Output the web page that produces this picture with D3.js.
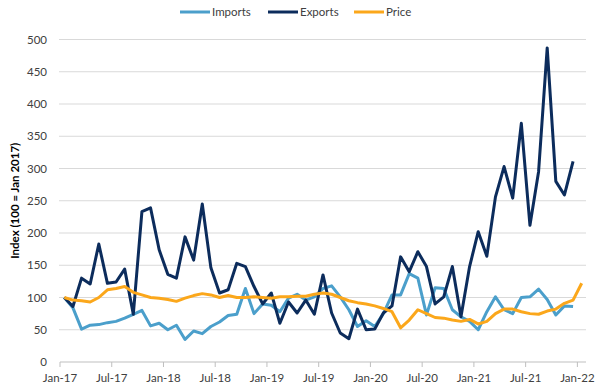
<!DOCTYPE html>
<html lang="en">
<head>
<meta charset="UTF-8">
<title>Index chart</title>
<script src="https://d3js.org/d3.v7.min.js"></script>
<style>
  body { margin: 0; background: #fff; }
  text { font-family: Lato, "Open Sans", sans-serif; fill: #404040; }
</style>
</head>
<body>
<div id="chart"></div>
<script>
// monthly values, Jan-17 .. Dec-21 (price also has Jan-22)
var months = d3.timeMonths(new Date(2017, 0, 1), new Date(2022, 1, 1));

var imports = [100, 84, 51, 57, 58, 61, 63, 68, 74, 80, 56, 60,
               50, 57, 35, 48, 44, 55, 62, 72, 74, 114, 75, 90,
               88, 78, 99, 105, 96, 101, 114, 118, 101, 81, 55, 64,
               55, 75, 104, 104, 137, 130, 73, 115, 114, 81, 70, 63,
               50, 78, 101, 81, 75, 100, 101, 113, 97, 73, 87, 86];

var exports = [100, 86, 130, 121, 183, 122, 124, 144, 74, 233, 239, 174,
               136, 130, 194, 158, 245, 146, 107, 112, 153, 148, 117, 90,
               107, 60, 93, 76, 96, 74, 135, 76, 45, 36, 82, 50,
               51, 76, 87, 163, 140, 171, 148, 90, 101, 148, 70, 148,
               202, 164, 256, 303, 254, 370, 212, 295, 487, 280, 259, 311];

var price = [100, 96, 95, 93, 100, 112, 114, 117, 108, 104, 100, 99,
             97, 94, 99, 103, 106, 104, 100, 103, 100, 100, 101, 100,
             99, 101, 101, 102, 102, 105, 107, 105, 100, 95, 92, 90,
             87, 83, 78, 53, 65, 81, 75, 69, 68, 65, 63, 66,
             59, 63, 75, 82, 82, 78, 75, 74, 79, 82, 91, 96, 122];

var yTicks = [0, 50, 100, 150, 200, 250, 300, 350, 400, 450, 500];

var series = [
  { name: "Imports", color: "#4b9fcb", values: imports },
  { name: "Exports", color: "#0c2c5c", values: exports },
  { name: "Price", color: "#fba71b", values: price }
];

var W = 600, H = 389;
var margin = { top: 39.5, right: 14, bottom: 27, left: 60 };

var svg = d3.select("#chart").append("svg")
  .attr("width", W).attr("height", H);

var x = d3.scaleBand()
  .domain(months)
  .range([margin.left, W - margin.right]);

var y = d3.scaleLinear()
  .domain([0, 500])
  .range([H - margin.bottom, margin.top]);

// gridlines
svg.append("g")
  .selectAll("line")
  .data(yTicks.slice(1))
  .enter().append("line")
  .attr("x1", margin.left - 1).attr("x2", W - margin.right)
  .attr("y1", function (d) { return y(d); })
  .attr("y2", function (d) { return y(d); })
  .attr("stroke", "#d9d9d9")
  .attr("stroke-width", 1);

// y axis labels
svg.append("g")
  .selectAll("text")
  .data(yTicks)
  .enter().append("text")
  .attr("x", 47)
  .attr("y", function (d) { return y(d) + 4; })
  .attr("text-anchor", "end")
  .style("font-size", "11.5px")
  .text(function (d) { return d; });

svg.append("text")
  .attr("transform", "translate(19," + y(250) + ") rotate(-90)")
  .attr("text-anchor", "middle")
  .style("font-size", "11.5px")
  .style("font-weight", "bold")
  .style("fill", "#000")
  .text("Index (100 = Jan 2017)");

// x axis
var fmt = d3.timeFormat("%b-%y");
var xTicks = months.filter(function (d, i) { return i % 6 === 0; });
var xAxis = svg.append("g");
xAxis.append("line")
  .attr("x1", margin.left).attr("x2", W - margin.right)
  .attr("y1", y(0)).attr("y2", y(0))
  .attr("stroke", "#bfbfbf");
xAxis.selectAll("line.tick")
  .data(xTicks)
  .enter().append("line")
  .attr("class", "tick")
  .attr("x1", function (d) { return x(d); })
  .attr("x2", function (d) { return x(d); })
  .attr("y1", y(0)).attr("y2", y(0) + 5)
  .attr("stroke", "#bfbfbf");
xAxis.selectAll("text")
  .data(xTicks)
  .enter().append("text")
  .attr("x", function (d) { return x(d); })
  .attr("y", y(0) + 20)
  .attr("text-anchor", "middle")
  .style("font-size", "11.5px")
  .text(function (d) { return fmt(d); });

// lines
var line = d3.line()
  .x(function (d, i) { return x(months[i]) + x.bandwidth() / 2; })
  .y(function (d) { return y(d); });

svg.selectAll("path.series")
  .data(series)
  .enter().append("path")
  .attr("class", "series")
  .attr("d", function (d) { return line(d.values); })
  .attr("fill", "none")
  .attr("stroke", function (d) { return d.color; })
  .attr("stroke-width", 3)
  .attr("stroke-linejoin", "round");

// legend
var legendX = [180, 268, 354];
var legend = svg.selectAll("g.legend")
  .data(series)
  .enter().append("g")
  .attr("class", "legend")
  .attr("transform", function (d, i) { return "translate(" + legendX[i] + ",12)"; });
legend.append("line")
  .attr("x1", 0).attr("x2", 30)
  .attr("stroke", function (d) { return d.color; })
  .attr("stroke-width", 3);
legend.append("text")
  .attr("x", 32).attr("y", 4)
  .style("font-size", "11.5px")
  .text(function (d) { return d.name; });
</script>
</body>
</html>
